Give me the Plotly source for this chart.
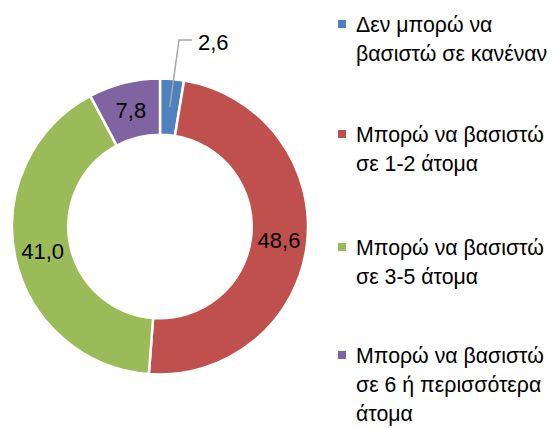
import math
import plotly.graph_objects as go

# ---- data ----
categories = [
    "Δεν μπορώ να<br>βασιστώ σε κανέναν",
    "Μπορώ να βασιστώ<br>σε 1-2 άτομα",
    "Μπορώ να βασιστώ<br>σε 3-5 άτομα",
    "Μπορώ να βασιστώ<br>σε 6 ή περισσότερα<br>άτομα",
]
values = [2.6, 48.6, 41.0, 7.8]
colors = ["#4F81BD", "#C0504D", "#9BBB59", "#8064A2"]

# page body has an 8px default margin; the figure starts at (8, 8)
OFF = 8
W, H = 558 - OFF, 428 - OFF
FONT = "Liberation Sans, Arial, sans-serif"


def px(x):
    return (x - OFF) / W


def py(y):
    return 1 - (y - OFF) / H


# donut geometry (window pixels)
left, right, top, bottom = 12, 308, 78, 375
cx, cy = (left + right) / 2, (top + bottom) / 2
R = (right - left) / 2
hole = 0.62

fig = go.Figure()
fig.add_trace(go.Pie(
    labels=categories,
    values=values,
    sort=False,
    direction="clockwise",
    rotation=0,
    hole=hole,
    marker=dict(colors=colors, line=dict(color="white", width=2.5)),
    texttemplate="%{value:.1f}",
    textposition=["none", "inside", "inside", "inside"],
    insidetextorientation="horizontal",
    textfont=dict(family=FONT, size=22, color="black"),
    domain=dict(x=[px(left), px(right)], y=[py(bottom), py(top)]),
    showlegend=False,
    hoverinfo="label+value",
))

# callout for the smallest slice, starting at its mid-angle on the ring
total = sum(values)
mid_frac = values[0] / 2 / total
ang = 2 * math.pi * mid_frac
rmid = R * (1 + hole) / 2
sx, sy = cx + rmid * math.sin(ang), cy - rmid * math.cos(ang)
ex, ey = 179, 40
fig.add_shape(type="path",
              path=f"M {px(sx)} {py(sy)} L {px(ex)} {py(ey)} L {px(ex + 13)} {py(ey)}",
              xref="paper", yref="paper",
              line=dict(color="#A6A6A6", width=1.5))
fig.add_annotation(x=px(ex + 17), y=py(ey + 2), xref="paper", yref="paper",
                   text=f"{values[0]:.1f}".replace(".", ","), showarrow=False,
                   xanchor="left", yanchor="middle",
                   font=dict(family=FONT, size=22, color="black"))

# legend (drawn manually to match the reference spacing)
baselines = [33, 143, 256, 364]
LINE = 29
for lab, col, b in zip(categories, colors, baselines):
    fig.add_shape(type="rect", xref="paper", yref="paper",
                  x0=px(338), x1=px(346), y0=py(b - 5), y1=py(b - 13),
                  fillcolor=col, line=dict(width=0))
    for j, line in enumerate(lab.split("<br>")):
        fig.add_annotation(x=px(354), y=py(b - 8 + j * LINE), xref="paper", yref="paper",
                           text=line, showarrow=False, align="left",
                           xanchor="left", yanchor="middle",
                           font=dict(family=FONT, size=21.3, color="black"))

fig.update_layout(
    width=W, height=H,
    margin=dict(l=0, r=0, t=0, b=0),
    paper_bgcolor="white", plot_bgcolor="white",
    separators=",.",
    uniformtext=dict(minsize=22, mode="show"),
)
fig.write_html("out.html")
